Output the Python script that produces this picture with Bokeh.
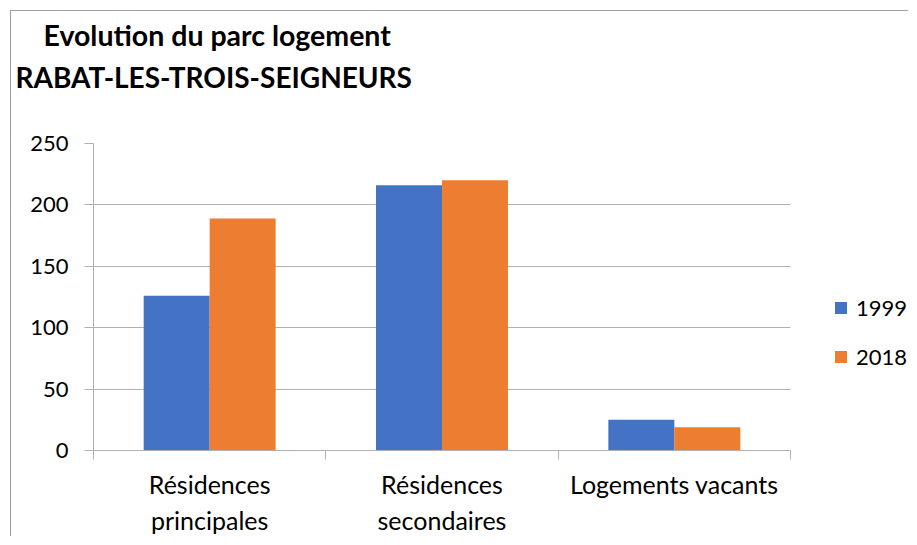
from bokeh.plotting import figure
from bokeh.models import Range1d, FixedTicker, Title, Legend, LegendItem, ColumnDataSource
from bokeh.transform import dodge
from bokeh.embed import file_html
from bokeh.resources import INLINE

# ---- data ----
categories = ["Résidences\nprincipales", "Résidences\nsecondaires", "Logements vacants"]
series_names = ["1999", "2018"]
values_1999 = [126, 216, 25]
values_2018 = [189, 220, 19]
y_ticks = [0, 50, 100, 150, 200, 250]
colors = ["#4472C4", "#ED7D31"]
title_line1 = "Evolution du parc logement"
title_line2 = "RABAT-LES-TROIS-SEIGNEURS"

FONT = "Lato"
GRID = "#b0b0b0"
W, H = 898, 526
N = len(categories)
CAT_PX = 697 / N           # pixel width of one category slot
FRAME_W = W - 82           # frame runs to the right edge so the legend fits in it

p = figure(width=W, height=H, x_range=Range1d(0, FRAME_W / CAT_PX), y_range=Range1d(0, 250),
           output_backend="svg", toolbar_location=None,
           min_border_left=82, min_border_right=0, min_border_top=132, min_border_bottom=86)
p.styles = {"border-left": "1px solid #a0a0a0", "border-top": "1px solid #a0a0a0",
            "margin-left": "10px", "margin-top": "10px"}
p.outline_line_color = None
p.background_fill_color = "white"
p.border_fill_color = "white"

centers = [i + 0.5 for i in range(N)]
bw = 0.284
src = ColumnDataSource(dict(x=centers, v1999=values_1999, v2018=values_2018))
r1 = p.vbar(x=dodge("x", -bw / 2, range=p.x_range), top="v1999", width=bw, bottom=0,
            source=src, fill_color=colors[0], line_color=None)
r2 = p.vbar(x=dodge("x", bw / 2, range=p.x_range), top="v2018", width=bw, bottom=0,
            source=src, fill_color=colors[1], line_color=None)

# x axis
xa = p.xaxis[0]
xa.bounds = (0, N)
xa.ticker = FixedTicker(ticks=centers, minor_ticks=list(range(N + 1)))
xa.major_label_overrides = {c: lab for c, lab in zip(centers, categories)}
xa.major_tick_line_color = None
xa.major_tick_out = 0
xa.major_tick_in = 0
xa.minor_tick_out = 9
xa.minor_tick_in = 0
xa.minor_tick_line_color = GRID
xa.axis_line_color = GRID
xa.major_label_text_font = FONT
xa.major_label_text_font_size = "25px"
xa.major_label_text_color = "#000000"
xa.major_label_standoff = 9

# y axis
ya = p.yaxis[0]
ya.ticker = FixedTicker(ticks=y_ticks)
ya.major_tick_out = 9
ya.major_tick_in = 0
ya.minor_tick_line_color = None
ya.major_tick_line_color = GRID
ya.axis_line_color = GRID
ya.major_label_text_font = FONT
ya.major_label_text_font_size = "22px"
ya.major_label_text_color = "#000000"
ya.major_label_standoff = 16

p.xgrid.grid_line_color = None
p.ygrid.ticker = FixedTicker(ticks=y_ticks)
p.ygrid.grid_line_color = GRID
p.ygrid.cross_bounds = (0, N)

# legend
legend = Legend(items=[LegendItem(label=series_names[0], renderers=[r1]),
                       LegendItem(label=series_names[1], renderers=[r2])],
                location=(740, 80), orientation="vertical",
                glyph_width=15, glyph_height=15, label_standoff=8, spacing=22,
                padding=0, margin=0, border_line_color=None, background_fill_alpha=0,
                label_text_font=FONT, label_text_font_size="22px", label_text_color="#000000")
p.add_layout(legend, "center")

# titles (first added is closest to the plot)
p.add_layout(Title(text=" ", text_font_size="35px", standoff=6), "above")
p.add_layout(Title(text=title_line2, align="left", offset=-78, standoff=5, text_font=FONT,
                   text_font_style="bold", text_font_size="28px", text_color="#000000"), "above")
p.add_layout(Title(text=title_line1, align="left", offset=-50, standoff=7, text_font=FONT,
                   text_font_style="bold", text_font_size="28.5px", text_color="#000000"), "above")

open("out.html", "w").write(file_html(p, INLINE))
